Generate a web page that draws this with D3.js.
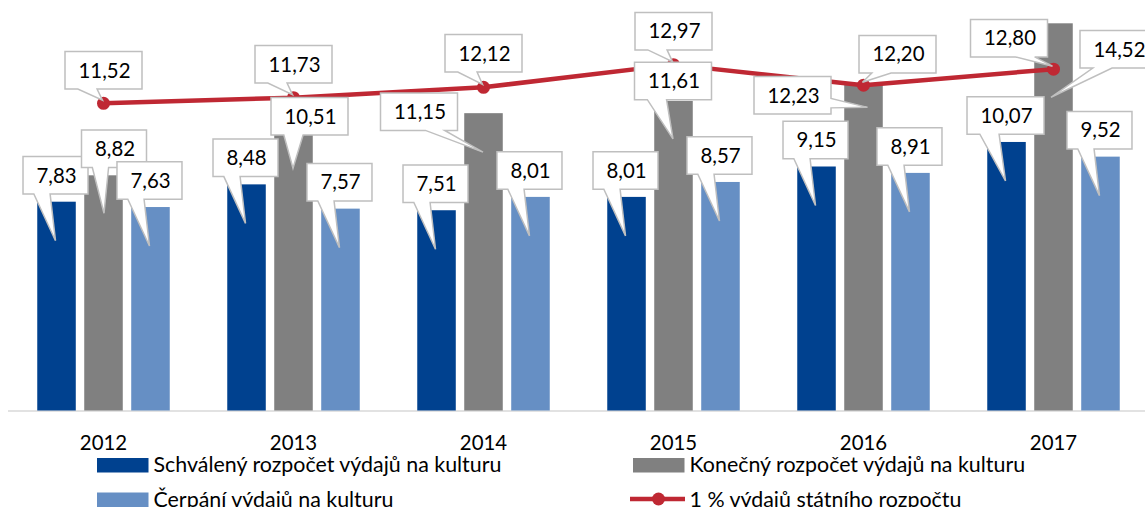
<!DOCTYPE html>
<html>
<head>
<meta charset="utf-8">
<script src="https://cdn.jsdelivr.net/npm/d3@7"></script>
<style>
  body { margin: 0; background: #fff; }
  svg { display: block; }
</style>
</head>
<body>
<svg id="chart" width="1145" height="507"></svg>
<script>
// ---- data (mld. Kč) ----
const years = ["2012", "2013", "2014", "2015", "2016", "2017"];
const approved = [7.83, 8.48, 7.51, 8.01, 9.15, 10.07];      // Schválený rozpočet
const finalBudget = [8.82, 10.51, 11.15, 11.61, 12.23, 14.52]; // Konečný rozpočet
const spent = [7.63, 7.57, 8.01, 8.57, 8.91, 9.52];           // Čerpání
const onePercent = [11.52, 11.73, 12.12, 12.97, 12.20, 12.80]; // 1 % výdajů SR
const seriesNames = [
  "Schválený rozpočet výdajů na kulturu",
  "Konečný rozpočet výdajů na kulturu",
  "Čerpání výdajů na kulturu",
  "1 % výdajů státního rozpočtu"
];

// ---- styling ----
const colors = { approved: "#00418F", final: "#808080", spent: "#668FC4", line: "#BF2833" };
const FONT = "Lato, 'Noto Sans', sans-serif";
const FS = 20.4;
const LEGEND_FS = 21.4;

// ---- callout placement (offsets of the label box from its pointer tip) ----
const barCallout = { tipDx: -1, drop: 39, dx: 0, dy: -65.5 };
const finalCallouts = [
  { tipDx: 0.5, drop: 38, dx: 10, dy: -64.5 },
  { tipDx: -0.5, drop: 38, dx: 16.5, dy: -52 },
  { tipDx: -0.5, drop: 39, dx: -64, dy: -40.5 },
  { tipDx: -0.5, drop: 38, dx: 0, dy: -58 },
  { tipDx: 4, drop: 23, dx: -75, dy: -12 },
  { tipDx: -2.5, drop: 74, dx: 67.5, dy: -48 }
];
const lineCallouts = [[0, -33], [0, -33.5], [0, -34], [0, -33.5], [34, -31], [-44.5, -31]];

const svg = d3.select("#chart");

const x0 = d3.scaleBand().domain(years).range([8.5, 1148.5]);
const x1 = d3.scaleBand().domain([0, 1, 2]).range([28.75, 161.25]).paddingInner(0.18);
const y = d3.scaleLinear().domain([0, 15]).range([410.5, 10.5]);

// baseline axis
const xAxis = d3.axisBottom(x0).tickSize(0).tickPadding(0);
const axisG = svg.append("g").attr("transform", `translate(0,${y(0) + 0.5})`).call(xAxis);
axisG.select(".domain").attr("stroke", "#D9D9D9").attr("stroke-width", 1.5).attr("d", `M8,0H1145`);
axisG.selectAll(".tick text")
  .attr("font-family", FONT).attr("font-size", FS).attr("fill", "#000")
  .attr("dy", null).attr("y", 39);

// bars
const barSeries = [
  { key: "approved", values: approved, color: colors.approved },
  { key: "final", values: finalBudget, color: colors.final },
  { key: "spent", values: spent, color: colors.spent }
];
const barLayer = svg.append("g");
barSeries.forEach((s, si) => {
  barLayer.selectAll(null)
    .data(s.values.map((v, i) => ({ year: years[i], v })))
    .join("rect")
    .attr("x", d => x0(d.year) + x1(si))
    .attr("width", x1.bandwidth())
    .attr("y", d => y(d.v))
    .attr("height", d => y(0) - y(d.v))
    .attr("fill", s.color);
});

// line series
const cx = yr => x0(yr) + x0.bandwidth() / 2;
const lineData = onePercent.map((v, i) => ({ year: years[i], v }));
svg.append("path")
  .datum(lineData)
  .attr("fill", "none")
  .attr("stroke", colors.line)
  .attr("stroke-width", 4.5)
  .attr("stroke-linejoin", "round")
  .attr("d", d3.line().x(d => cx(d.year)).y(d => y(d.v)));
svg.append("g").selectAll("circle")
  .data(lineData).join("circle")
  .attr("cx", d => cx(d.year)).attr("cy", d => y(d.v)).attr("r", 6.5)
  .attr("fill", colors.line);

// ---- callouts ----
function calloutPath(l, t, w, h, px, py) {
  const r = l + w, b = t + h, hc = l + w / 2, vc = t + h / 2;
  const dxPos = px - hc, dyPos = py - vc;
  const adx = Math.abs(dxPos * h), ady = Math.abs(dyPos * w);
  const inside = px >= l && px <= r && py >= t && py <= b;
  const xa = l + w * (dxPos > 0 ? 7 : 2) / 12, xb = l + w * (dxPos > 0 ? 10 : 5) / 12;
  const ya = t + h * (dyPos > 0 ? 7 : 2) / 12, yb = t + h * (dyPos > 0 ? 10 : 5) / 12;
  let p = `M${l},${t}`;
  if (!inside && ady > adx && dyPos < 0) p += `L${xa},${t}L${px},${py}L${xb},${t}`;
  p += `L${r},${t}`;
  if (!inside && adx >= ady && dxPos > 0) p += `L${r},${ya}L${px},${py}L${r},${yb}`;
  p += `L${r},${b}`;
  if (!inside && ady > adx && dyPos > 0) p += `L${xb},${b}L${px},${py}L${xa},${b}`;
  p += `L${l},${b}`;
  if (!inside && adx >= ady && dxPos < 0) p += `L${l},${yb}L${px},${py}L${l},${ya}`;
  return p + "Z";
}

const fmt = v => d3.format(".2f")(v).replace(".", ",");
const labelLayer = svg.append("g");
function drawCallout(value, tipX, tipY, boxCx, boxCy) {
  const g = labelLayer.append("g");
  const txt = g.append("text")
    .attr("font-family", FONT).attr("font-size", FS).attr("fill", "#000")
    .attr("text-anchor", "middle")
    .text(fmt(value));
  const tw = txt.node().getComputedTextLength();
  const w = Math.round(tw + 25), h = 37.5;
  const l = boxCx - w / 2, t = boxCy - h / 2;
  g.insert("path", "text")
    .attr("d", calloutPath(l, t, w, h, tipX, tipY))
    .attr("fill", "#fff").attr("stroke", "#BFBFBF").attr("stroke-width", 1.5)
    .attr("stroke-linejoin", "miter");
  txt.attr("x", boxCx + 1).attr("y", boxCy + 7.3);
}

// order: approved, final, spent, line
[0, 1, 2].forEach(si => {
  const s = barSeries[si];
  s.values.forEach((v, i) => {
    const bx = x0(years[i]) + x1(si) + x1.bandwidth() / 2;
    const c = si === 1 ? finalCallouts[i] : barCallout;
    const tx = bx + c.tipDx, ty = y(v) + c.drop;
    drawCallout(v, tx, ty, tx + c.dx, ty + c.dy);
  });
});
onePercent.forEach((v, i) => {
  const mx = cx(years[i]), my = y(v);
  const [dx, dy] = lineCallouts[i];
  drawCallout(v, mx - 1, my - 3, mx + dx, my + dy);
});

// ---- legend ----
const legend = svg.append("g").attr("font-family", FONT).attr("font-size", LEGEND_FS).attr("fill", "#000");
const legendItems = [
  { name: seriesNames[0], color: colors.approved, x: 97, y: 458, type: "rect" },
  { name: seriesNames[1], color: colors.final, x: 633, y: 458, type: "rect" },
  { name: seriesNames[2], color: colors.spent, x: 97, y: 492.5, type: "rect" },
  { name: seriesNames[3], color: colors.line, x: 633, y: 492.5, type: "line" }
];
legendItems.forEach(it => {
  if (it.type === "rect") {
    legend.append("rect").attr("x", it.x).attr("y", it.y).attr("width", 51.5).attr("height", 14.5).attr("fill", it.color);
  } else {
    legend.append("line").attr("x1", it.x - 3).attr("x2", it.x + 52).attr("y1", it.y + 6.5).attr("y2", it.y + 6.5)
      .attr("stroke", it.color).attr("stroke-width", 4.5);
    legend.append("circle").attr("cx", it.x + 25.5).attr("cy", it.y + 6.5).attr("r", 6.5).attr("fill", it.color);
  }
  legend.append("text").attr("x", it.x + 56.5).attr("y", it.y + 14).text(it.name);
});
</script>
</body>
</html>
